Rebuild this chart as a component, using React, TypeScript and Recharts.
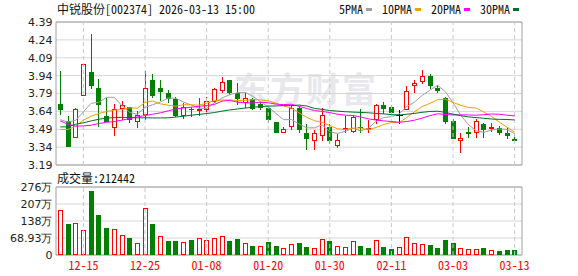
import React from 'react';
import { ComposedChart, Bar, Line, XAxis, YAxis, CartesianGrid, ReferenceLine, ReferenceArea } from 'recharts';

const RED = '#ff0000';
const GREEN = '#008000';
const MONO = '"Noto Sans Mono CJK SC", "Noto Sans CJK SC", monospace';

const dates = [
  '12-10', '12-11', '12-12', '12-15', '12-16', '12-17', '12-18', '12-19', '12-22', '12-23',
  '12-24', '12-25', '12-26', '12-29', '12-30', '12-31', '01-05', '01-06', '01-07', '01-08',
  '01-09', '01-12', '01-13', '01-14', '01-15', '01-16', '01-19', '01-20', '01-21', '01-22',
  '01-23', '01-26', '01-27', '01-28', '01-29', '01-30', '02-02', '02-03', '02-04', '02-05',
  '02-06', '02-09', '02-10', '02-11', '02-12', '02-13', '02-24', '02-25', '02-26', '02-27',
  '03-02', '03-03', '03-04', '03-05', '03-06', '03-09', '03-10', '03-11', '03-12', '03-13',
];

const open = [
  3.70, 3.56, 3.42, 3.77, 3.97, 3.84, 3.60, 3.50, 3.66, 3.68,
  3.55, 3.61, 3.90, 3.84, 3.79, 3.74, 3.60, 3.66, 3.64, 3.65,
  3.72, 3.81, 3.90, 3.79, 3.71, 3.74, 3.70, 3.67, 3.55, 3.46,
  3.51, 3.67, 3.46, 3.39, 3.43, 3.51, 3.35, 3.48, 3.47, 3.51,
  3.49, 3.57, 3.69, 3.68, 3.61, 3.65, 3.85, 3.89, 3.94, 3.84,
  3.75, 3.56, 3.39, 3.47, 3.46, 3.53, 3.50, 3.50, 3.46, 3.41,
];
const high = [
  3.98, 3.60, 3.67, 4.04, 4.29, 3.91, 3.75, 3.70, 3.73, 3.68,
  3.64, 3.98, 3.95, 3.90, 3.82, 3.76, 3.71, 3.68, 3.75, 3.76,
  3.84, 3.93, 3.90, 3.88, 3.79, 3.75, 3.72, 3.68, 3.55, 3.51,
  3.69, 3.68, 3.53, 3.48, 3.67, 3.53, 3.45, 3.60, 3.61, 3.66,
  3.57, 3.70, 3.72, 3.69, 3.65, 3.85, 3.90, 3.99, 3.95, 3.86,
  3.76, 3.58, 3.46, 3.51, 3.58, 3.54, 3.54, 3.52, 3.51, 3.45,
];
const low = [
  3.61, 3.34, 3.42, 3.77, 3.83, 3.51, 3.55, 3.43, 3.57, 3.54,
  3.50, 3.57, 3.75, 3.73, 3.71, 3.59, 3.58, 3.59, 3.60, 3.60,
  3.71, 3.79, 3.78, 3.69, 3.67, 3.65, 3.65, 3.54, 3.46, 3.46,
  3.48, 3.46, 3.32, 3.32, 3.39, 3.37, 3.33, 3.46, 3.46, 3.46,
  3.46, 3.53, 3.62, 3.62, 3.53, 3.65, 3.79, 3.87, 3.83, 3.79,
  3.53, 3.41, 3.29, 3.42, 3.42, 3.42, 3.47, 3.44, 3.41, 3.39,
];
const close = [
  3.65, 3.34, 3.66, 4.04, 3.85, 3.69, 3.55, 3.66, 3.69, 3.57,
  3.61, 3.84, 3.77, 3.80, 3.74, 3.60, 3.68, 3.65, 3.66, 3.73,
  3.83, 3.89, 3.79, 3.74, 3.75, 3.66, 3.67, 3.57, 3.46, 3.49,
  3.67, 3.48, 3.41, 3.46, 3.61, 3.39, 3.40, 3.50, 3.59, 3.50,
  3.50, 3.69, 3.66, 3.63, 3.61, 3.81, 3.88, 3.94, 3.85, 3.81,
  3.55, 3.41, 3.42, 3.45, 3.56, 3.48, 3.51, 3.46, 3.43, 3.39,
];

const ma5 = [
  3.570, 3.550, 3.566, 3.636, 3.708, 3.716, 3.758, 3.758, 3.688, 3.632,
  3.616, 3.674, 3.696, 3.718, 3.752, 3.750, 3.718, 3.694, 3.666, 3.664,
  3.710, 3.752, 3.780, 3.796, 3.800, 3.766, 3.722, 3.678, 3.622, 3.570,
  3.572, 3.534, 3.502, 3.502, 3.526, 3.470, 3.454, 3.472, 3.498, 3.476,
  3.498, 3.556, 3.588, 3.596, 3.618, 3.680, 3.718, 3.774, 3.818, 3.858,
  3.806, 3.712, 3.608, 3.528, 3.478, 3.464, 3.484, 3.492, 3.488, 3.454,
];
const ma10 = [
  3.488, 3.488, 3.516, 3.566, 3.600, 3.622, 3.639, 3.650, 3.655, 3.670,
  3.666, 3.716, 3.727, 3.703, 3.692, 3.683, 3.696, 3.695, 3.692, 3.708,
  3.730, 3.735, 3.737, 3.731, 3.732, 3.738, 3.737, 3.729, 3.709, 3.685,
  3.669, 3.628, 3.590, 3.562, 3.548, 3.521, 3.494, 3.487, 3.500, 3.501,
  3.484, 3.505, 3.530, 3.547, 3.547, 3.589, 3.637, 3.681, 3.707, 3.738,
  3.743, 3.715, 3.691, 3.673, 3.668, 3.635, 3.598, 3.550, 3.508, 3.466,
];
const ma20 = [
  3.560, 3.532, 3.516, 3.518, 3.524, 3.538, 3.548, 3.555, 3.566, 3.580,
  3.594, 3.605, 3.616, 3.628, 3.644, 3.660, 3.668, 3.675, 3.682, 3.689,
  3.698, 3.726, 3.732, 3.717, 3.712, 3.711, 3.717, 3.712, 3.701, 3.697,
  3.700, 3.682, 3.664, 3.647, 3.640, 3.630, 3.616, 3.608, 3.605, 3.593,
  3.577, 3.567, 3.560, 3.555, 3.548, 3.555, 3.566, 3.584, 3.604, 3.620,
  3.614, 3.610, 3.611, 3.610, 3.608, 3.612, 3.618, 3.616, 3.608, 3.602,
];
const ma30 = [
  3.510, 3.510, 3.532, 3.544, 3.560, 3.574, 3.583, 3.588, 3.590, 3.588,
  3.586, 3.586, 3.585, 3.585, 3.586, 3.592, 3.600, 3.608, 3.614, 3.622,
  3.630, 3.642, 3.652, 3.660, 3.668, 3.674, 3.680, 3.684, 3.686, 3.688,
  3.688, 3.693, 3.685, 3.665, 3.657, 3.647, 3.642, 3.637, 3.634, 3.631,
  3.628, 3.623, 3.619, 3.613, 3.609, 3.616, 3.623, 3.632, 3.639, 3.641,
  3.632, 3.616, 3.604, 3.594, 3.588, 3.582, 3.576, 3.573, 3.572, 3.568,
];

// volume in 万
const volume = [
  184, 125, 128, 101, 258, 161, 109, 104, 83, 69,
  47, 192, 125, 79, 56, 56, 51, 60, 67, 61,
  67, 79, 56, 63, 47, 36, 35, 52, 36, 27,
  43, 48, 31, 27, 63, 56, 38, 31, 55, 36,
  28, 59, 32, 24, 31, 75, 47, 43, 40, 28,
  60, 48, 27, 23, 23, 27, 19, 16, 20, 21.24,
];
// 1 = red (hollow), 0 = green
const volUp = [
  1, 0, 1, 1, 0, 0, 0, 1, 1, 0,
  1, 1, 0, 1, 0, 0, 1, 0, 1, 1,
  1, 1, 0, 0, 1, 0, 1, 0, 0, 1,
  1, 0, 0, 1, 1, 0, 1, 1, 1, 0,
  0, 1, 0, 0, 1, 1, 1, 1, 0, 0,
  0, 0, 1, 1, 1, 0, 1, 0, 0, 0,
];

const priceTicks = [3.19, 3.34, 3.49, 3.64, 3.79, 3.94, 4.09, 4.24, 4.39];
const volTicks = [0, 68.93, 137.86, 206.79, 275.72];
const volTickLabels = ['0', '68.93万', '138万', '207万', '276万'];
const dateTicks = ['12-15', '12-25', '01-08', '01-20', '01-30', '02-11', '03-03', '03-13'];

const maKeys = ['ma5', 'ma10', 'ma20', 'ma30'];
const maNames = ['5PMA', '10PMA', '20PMA', '30PMA'];
const maColors = ['#a0a0a0', '#f0a000', '#ff00ff', '#006f2c'];

const data = dates.map((d, i) => ({
  i,
  date: d,
  open: open[i],
  high: high[i],
  low: low[i],
  close: close[i],
  range: [low[i], high[i]],
  ma5: ma5[i],
  ma10: ma10[i],
  ma20: ma20[i],
  ma30: ma30[i],
  vol: volume[i],
  volUp: volUp[i],
}));

const tickIdx = dateTicks.map((t) => dates.indexOf(t));
const xDomain = [-0.56, 59.96];

function Candle(props: any) {
  const { x, y, width, height, payload } = props;
  if (!payload) return null;
  const { open: o, close: c, high: h, low: l } = payload;
  const span = h - l;
  const py = (v: number) => (span === 0 ? y : y + ((h - v) / span) * height);
  const cx = Math.round(x + width / 2) + 0.5;
  const yHigh = Math.round(py(h));
  const yLow = Math.round(py(l));
  const top = Math.round(py(Math.max(o, c)));
  const bot = Math.round(py(Math.min(o, c)));
  if (c > o) {
    return (
      <g>
        <line x1={cx} x2={cx} y1={yHigh} y2={top} stroke={RED} />
        <line x1={cx} x2={cx} y1={bot} y2={yLow} stroke={RED} />
        <rect x={cx - 2} y={top + 0.5} width={4} height={Math.max(bot - top - 1, 1)} fill="#fff" stroke={RED} />
      </g>
    );
  }
  if (c < o) {
    return (
      <g>
        <line x1={cx} x2={cx} y1={yHigh} y2={yLow} stroke={GREEN} />
        <rect x={cx - 2.5} y={top} width={5} height={Math.max(bot - top, 1)} fill={GREEN} />
      </g>
    );
  }
  return (
    <g>
      <line x1={cx} x2={cx} y1={yHigh} y2={yLow} stroke="#000" />
      <line x1={cx - 3.5} x2={cx + 3.5} y1={top + 0.5} y2={top + 0.5} stroke="#000" />
    </g>
  );
}

function VolBar(props: any) {
  const { x, y, width, height, payload } = props;
  if (!payload) return null;
  const cx = Math.round(x + width / 2) + 0.5;
  const top = Math.round(y);
  const bot = Math.round(y + height);
  if (payload.volUp) {
    return <rect x={cx - 2} y={top + 0.5} width={4} height={Math.max(bot - top - 1, 1)} fill="#fff" stroke={RED} />;
  }
  return <rect x={cx - 2.5} y={top} width={5} height={bot - top} fill={GREEN} />;
}

const axisTick = { fontSize: 11, fill: '#222', fontFamily: 'DejaVu Sans' };

export default function App() {
  return (
    <div style={{ position: 'absolute', left: 0, top: 0, width: 578, height: 276, background: '#fff', overflow: 'hidden' }}>
      <div style={{ position: 'absolute', left: 234, top: 68, fontSize: 34, fontWeight: 700, color: '#e8e8ec', fontFamily: '"Noto Sans CJK SC"', lineHeight: '40px', letterSpacing: 2 }}>
        东方财富
      </div>

      <div style={{ position: 'absolute', left: 57, top: 3, fontSize: 12, lineHeight: '12px', fontFamily: MONO, color: '#111', whiteSpace: 'nowrap' }}>
        中锐股份[002374] 2026-03-13 15:00
      </div>

      <div style={{ position: 'absolute', left: 339, top: 3, display: 'flex', alignItems: 'center', fontSize: 12, lineHeight: '12px', fontFamily: MONO, color: '#111', whiteSpace: 'nowrap' }}>
        {maNames.map((n, k) => (
          <span key={n} style={{ display: 'flex', alignItems: 'center', marginRight: 10 }}>
            {n}
            <span style={{ display: 'inline-block', width: 6, height: 3, marginLeft: 3, background: maColors[k] }} />
          </span>
        ))}
      </div>

      <div style={{ position: 'absolute', left: 0, top: 0 }}>
        <ComposedChart width={578} height={174} data={data} margin={{ top: 22, right: 56, bottom: 9, left: 0 }}>
          <CartesianGrid vertical={false} stroke="#d6d6d6" />
          {tickIdx.map((t) => (
            <ReferenceLine key={t} x={t} stroke="#c8c8c8" strokeDasharray="4 3" />
          ))}
          <XAxis dataKey="i" type="number" domain={xDomain} allowDataOverflow hide />
          <YAxis
            domain={[3.19, 4.39]}
            ticks={priceTicks}
            interval={0}
            width={56}
            axisLine={false}
            tickLine={false}
            tickSize={0}
            tickMargin={3.5}
            tick={axisTick}
            tickFormatter={(v: number) => v.toFixed(2)}
            allowDataOverflow
          />
          <ReferenceArea x1={xDomain[0]} x2={xDomain[1]} y1={3.19} y2={4.39} fill="none" stroke="#a0a0a0" />
          {maKeys.map((k, idx) => (
            <Line key={k} dataKey={k} type="linear" stroke={maColors[idx]} strokeWidth={1} dot={false} activeDot={false} isAnimationActive={false} />
          ))}
          <Bar dataKey="range" barSize={5} shape={<Candle />} isAnimationActive={false} />
        </ComposedChart>
      </div>

      <div style={{ position: 'absolute', left: 57, top: 172, fontSize: 12, lineHeight: '12px', fontFamily: MONO, color: '#111', whiteSpace: 'nowrap' }}>
        成交量:212442
      </div>

      <div style={{ position: 'absolute', left: 0, top: 166 }}>
        <ComposedChart width={578} height={110} data={data} margin={{ top: 21, right: 56, bottom: 0, left: 0 }}>
          <CartesianGrid vertical={false} stroke="#d6d6d6" />
          {tickIdx.map((t) => (
            <ReferenceLine key={t} x={t} stroke="#c8c8c8" strokeDasharray="4 3" />
          ))}
          <XAxis
            dataKey="i"
            type="number"
            domain={xDomain}
            allowDataOverflow
            ticks={tickIdx}
            interval={0}
            height={21}
            axisLine={false}
            tickLine={false}
            tickSize={0}
            tickMargin={6}
            tick={{ fontSize: 12, fill: RED, fontFamily: MONO }}
            tickFormatter={(v: number) => dates[v]}
          />
          <YAxis
            domain={[0, 275.72]}
            ticks={volTicks}
            interval={0}
            width={56}
            axisLine={false}
            tickLine={false}
            tickSize={0}
            tickMargin={3.5}
            tick={axisTick}
            tickFormatter={(v: number) => volTickLabels[volTicks.indexOf(v)]}
            allowDataOverflow
          />
          <ReferenceArea x1={xDomain[0]} x2={xDomain[1]} y1={0} y2={275.72} fill="none" stroke="#a0a0a0" />
          <Bar dataKey="vol" barSize={5} shape={<VolBar />} isAnimationActive={false} />
        </ComposedChart>
      </div>
    </div>
  );
}
